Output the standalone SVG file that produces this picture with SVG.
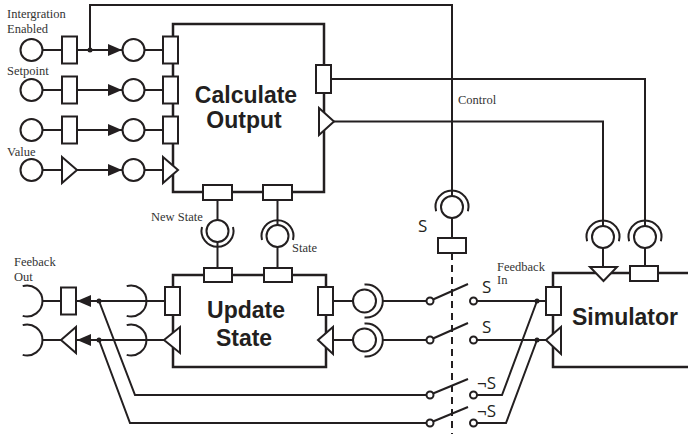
<svg xmlns="http://www.w3.org/2000/svg" width="688" height="434" viewBox="0 0 688 434">
<style>
.ln{stroke:#231f20;stroke-width:2;fill:none}
.dash{stroke:#231f20;stroke-width:2;fill:none;stroke-dasharray:7 5}
.box{stroke:#231f20;stroke-width:2.5;fill:#fff}
.pt{stroke:#231f20;stroke-width:2;fill:#fff}
.dot{fill:#231f20}
.lbl{font-family:"Liberation Serif","Times New Roman",serif;font-size:12.5px;fill:#333}
.ttl{font-family:"Liberation Sans",Arial,sans-serif;font-weight:bold;font-size:23px;fill:#231f20;text-anchor:middle}
.sw{font-family:"Open Sans","Liberation Sans",sans-serif;font-size:17px;fill:#231f20}
</style>
<defs>
<marker id="ah" markerUnits="userSpaceOnUse" markerWidth="14" markerHeight="12" refX="14" refY="6" orient="auto">
<path d="M0,0 L14,6 L0,12 z" fill="#231f20"/>
</marker>
</defs>
<rect width="688" height="434" fill="#fff"/>

<g id="connectors">
<path class="ln" d="M42.5,50 H62 M42.5,90 H62 M42.5,130 H62 M42.5,170 H62"/>
<path class="ln" marker-end="url(#ah)" d="M77,50 H122"/>
<path class="ln" marker-end="url(#ah)" d="M77,90 H122"/>
<path class="ln" marker-end="url(#ah)" d="M77,130 H122"/>
<path class="ln" marker-end="url(#ah)" d="M77,170 H122"/>
<path class="ln" d="M144.5,50 H163 M144.5,90 H163 M144.5,130 H163 M144.5,170 H163"/>
<path class="ln" d="M90,50 V5 H452 V196"/>
<path class="ln" d="M452,218 V238"/>
<path class="dash" d="M452,253 V434"/>
<path class="ln" d="M331,79 H645 V226"/>
<path class="ln" d="M334,121.5 H603 V226"/>
<path class="ln" d="M603,248 V267 M645,248 V266"/>
<path class="ln" d="M217.5,200 V220 M217.5,242 V268"/>
<path class="ln" d="M277.5,200 V225 M277.5,247 V268"/>
<path class="ln" d="M333,301 H353 M382.5,301 H426.5"/>
<path class="ln" d="M333,340 H353 M382.5,340 H426.5"/>
<path class="ln" d="M477,301 H546 M477,340 H546"/>
<path class="ln" d="M477,395 H502 L537,301 M477,423 H506 L537,340"/>
<path class="ln" d="M426.5,395 H135 L99,301 M426.5,423 H130 L99,340"/>
<path class="ln" marker-end="url(#ah)" d="M165,301 H77"/>
<path class="ln" marker-end="url(#ah)" d="M164,340 H77"/>
<path class="ln" d="M61,301 H42.5 M61,340 H42.5"/>
<circle class="dot" cx="90" cy="50" r="2.5"/>
<circle class="dot" cx="99" cy="301" r="2.5"/>
<circle class="dot" cx="99" cy="340" r="2.5"/>
<circle class="dot" cx="537" cy="301" r="2.5"/>
<circle class="dot" cx="537" cy="340" r="2.5"/>
</g>

<g id="switches">
<g id="switch-1">
<circle class="pt" cx="430" cy="301" r="3.5"/><circle class="pt" cx="473.5" cy="301" r="3.5"/>
<path class="ln" d="M433,299.5 L468,284"/>
<text class="sw" x="482" y="293">S</text>
</g>
<g id="switch-2">
<circle class="pt" cx="430" cy="340" r="3.5"/><circle class="pt" cx="473.5" cy="340" r="3.5"/>
<path class="ln" d="M433,338.5 L468,323"/>
<text class="sw" x="482" y="333">S</text>
</g>
<g id="switch-3">
<circle class="pt" cx="430" cy="395" r="3.5"/><circle class="pt" cx="473.5" cy="395" r="3.5"/>
<path class="ln" d="M433,393.5 L468,379"/>
<text class="sw" x="477" y="388.5">¬S</text>
</g>
<g id="switch-4">
<circle class="pt" cx="430" cy="423" r="3.5"/><circle class="pt" cx="473.5" cy="423" r="3.5"/>
<path class="ln" d="M433,421.5 L468,407"/>
<text class="sw" x="477" y="417">¬S</text>
</g>
</g>

<g id="inputs">
<g id="in-integration">
<circle class="pt" cx="31.5" cy="50" r="11"/>
<rect class="pt" x="62" y="36.5" width="15" height="27"/>
<circle class="pt" cx="133.5" cy="50" r="11"/>
<text class="lbl" x="7" y="18">Intergration</text>
<text class="lbl" x="7" y="33">Enabled</text>
</g>
<g id="in-setpoint">
<circle class="pt" cx="31.5" cy="90" r="11"/>
<rect class="pt" x="62" y="76.5" width="15" height="27"/>
<circle class="pt" cx="133.5" cy="90" r="11"/>
<text class="lbl" x="7" y="75">Setpoint</text>
</g>
<g id="in-3">
<circle class="pt" cx="31.5" cy="130" r="11"/>
<rect class="pt" x="62" y="116.5" width="15" height="27"/>
<circle class="pt" cx="133.5" cy="130" r="11"/>
</g>
<g id="in-value">
<circle class="pt" cx="31.5" cy="170" r="11"/>
<polygon class="pt" points="62,157 77,170 62,183"/>
<circle class="pt" cx="133.5" cy="170" r="11"/>
<text class="lbl" x="7" y="156">Value</text>
</g>
</g>

<g id="calculate-output">
<rect class="box" x="173" y="24" width="151" height="168"/>
<rect class="pt" x="163" y="36.5" width="15" height="27"/>
<rect class="pt" x="163" y="76.5" width="15" height="27"/>
<rect class="pt" x="163" y="116.5" width="15" height="27"/>
<polygon class="pt" points="163,157 178,170 163,183"/>
<rect class="pt" x="316" y="65" width="15" height="28"/>
<polygon class="pt" points="319,108 334,121.5 319,135"/>
<rect class="pt" x="203" y="185" width="29" height="15"/>
<rect class="pt" x="263" y="185" width="29" height="15"/>
<text class="ttl" x="246" y="103">Calculate</text>
<text class="ttl" x="244" y="128">Output</text>
</g>

<g id="new-state-socket">
<circle class="pt" cx="217.5" cy="231" r="11"/>
<path class="ln" d="M202,226.9 A16,16 0 1 0 233,226.9"/>
<text class="lbl" x="151" y="221">New State</text>
</g>
<g id="state-socket">
<circle class="pt" cx="277.5" cy="236" r="11"/>
<path class="ln" d="M262,240.1 A16,16 0 1 1 293,240.1"/>
<text class="lbl" x="292" y="252">State</text>
</g>

<g id="update-state">
<rect class="box" x="173" y="275" width="153" height="92"/>
<rect class="pt" x="204" y="268" width="28" height="14"/>
<rect class="pt" x="264" y="268" width="28" height="14"/>
<rect class="pt" x="165" y="287" width="15" height="28"/>
<polygon class="pt" points="164,340 180,327 180,353"/>
<rect class="pt" x="318" y="287" width="15" height="28"/>
<polygon class="pt" points="318,340 333,327 333,354"/>
<text class="ttl" x="246" y="318">Update</text>
<text class="ttl" x="244" y="346">State</text>
</g>

<g id="update-sockets">
<circle class="pt" cx="364.5" cy="301" r="11.5"/>
<path class="ln" d="M364.5,284.6 A16.5,16.5 0 1 1 364.5,317.4"/>
<circle class="pt" cx="364.5" cy="340" r="11.5"/>
<path class="ln" d="M364.5,323.6 A16.5,16.5 0 1 1 364.5,356.4"/>
</g>

<g id="feedback-out">
<path class="ln" d="M22.7,286.1 A15.5,15.5 0 1 1 22.7,315.9"/>
<path class="ln" d="M22.7,325.1 A15.5,15.5 0 1 1 22.7,354.9"/>
<rect class="pt" x="61" y="287.5" width="15" height="27"/>
<polygon class="pt" points="61,340 76,327 76,353"/>
<path class="ln" d="M126.7,286.1 A15.5,15.5 0 1 1 126.7,315.9"/>
<path class="ln" d="M126.7,325.1 A15.5,15.5 0 1 1 126.7,354.9"/>
<text class="lbl" x="14" y="266">Feeback</text>
<text class="lbl" x="14" y="281">Out</text>
</g>

<g id="s-socket">
<circle class="pt" cx="452" cy="207" r="11"/>
<path class="ln" d="M436.1,211.3 A16.5,16.5 0 1 1 467.9,211.3"/>
<rect class="pt" x="438" y="238" width="28" height="15"/>
<text class="sw" x="418" y="232">S</text>
</g>

<g id="simulator">
<rect class="box" x="553" y="273" width="150" height="94"/>
<rect class="pt" x="546" y="287" width="15" height="28"/>
<polygon class="pt" points="546,340 561,327 561,354"/>
<polygon class="pt" points="590,267 617,267 603.5,281"/>
<rect class="pt" x="630" y="266" width="28" height="15"/>
<text class="ttl" x="625" y="325">Simulator</text>
<text class="lbl" x="497" y="270.5">Feedback</text>
<text class="lbl" x="497" y="283.5">In</text>
</g>

<g id="sim-sockets">
<circle class="pt" cx="603" cy="237" r="11"/>
<path class="ln" d="M587.1,241.3 A16.5,16.5 0 1 1 618.9,241.3"/>
<circle class="pt" cx="645" cy="237" r="11"/>
<path class="ln" d="M629.1,241.3 A16.5,16.5 0 1 1 660.9,241.3"/>
<text class="lbl" x="458" y="104">Control</text>
</g>
</svg>
